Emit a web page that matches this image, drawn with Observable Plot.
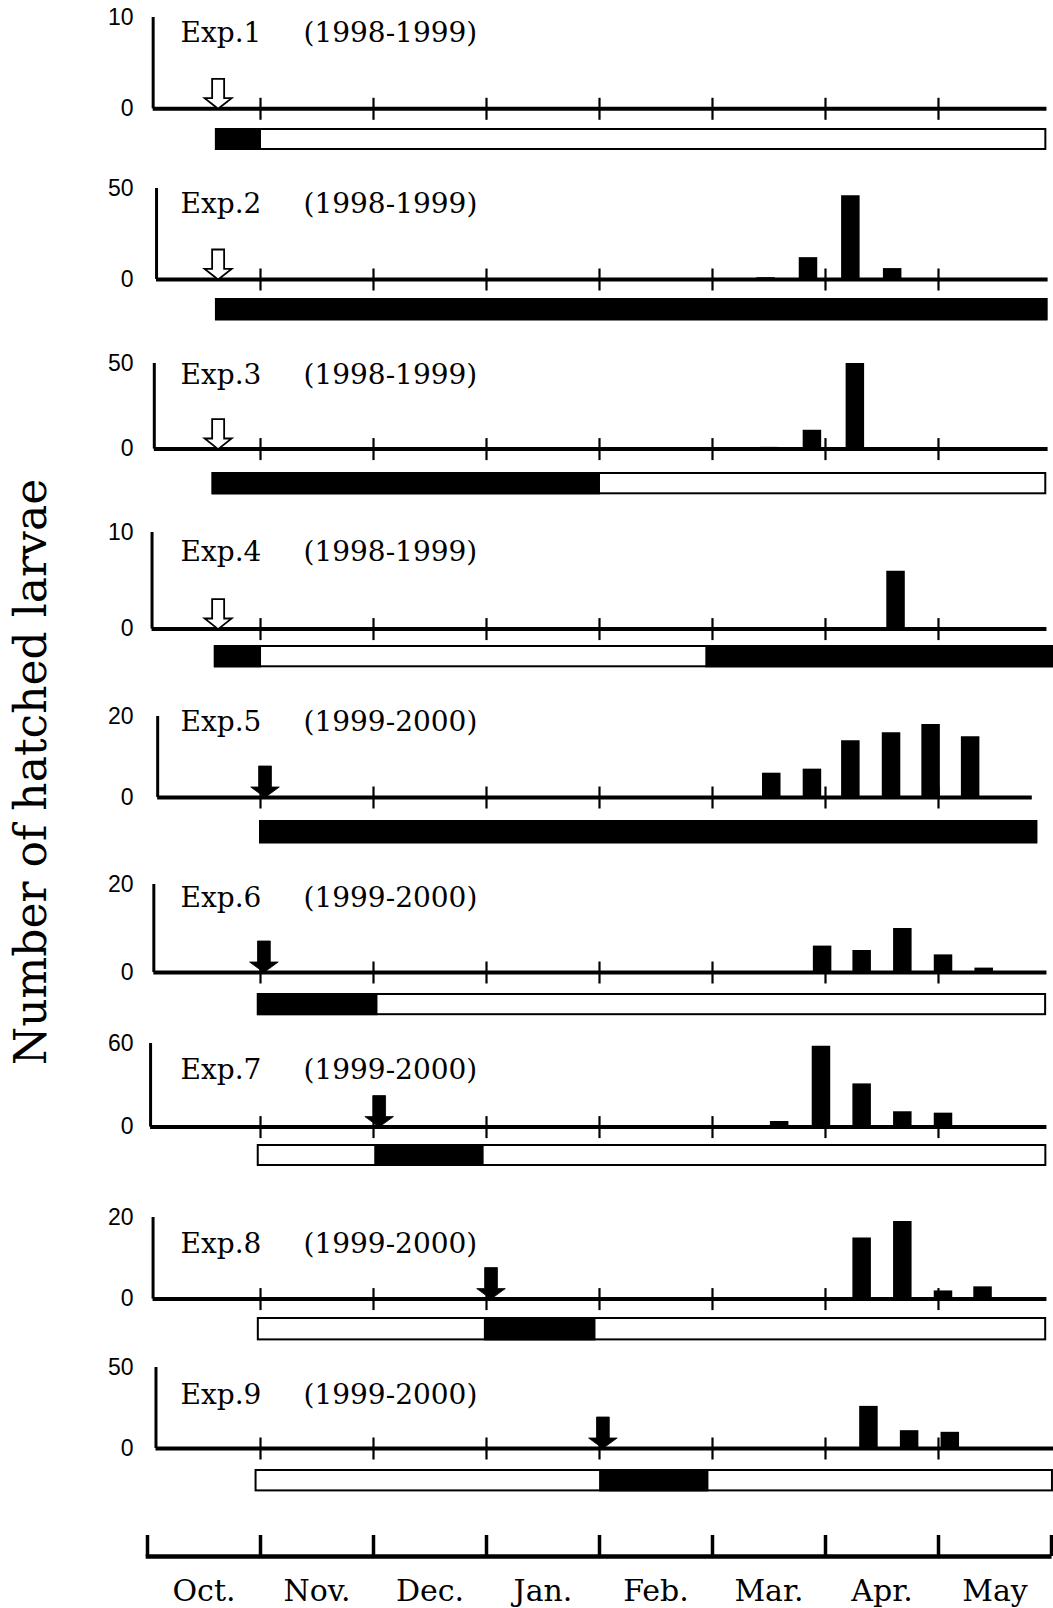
<!DOCTYPE html>
<html>
<head>
<meta charset="utf-8">
<script src="https://cdn.jsdelivr.net/npm/d3@7"></script>
<script src="https://cdn.jsdelivr.net/npm/@observablehq/plot@0.6"></script>
<style>
  body { margin: 0; background: white; }
  #root { position: relative; width: 1053px; height: 1608px; background: white; overflow: hidden; }
  #root > .piece { position: absolute; left: 0; }
  #ytitle { position: absolute; left: 31px; top: 772px; transform: translate(-50%, -50%) rotate(-90deg);
            white-space: nowrap; font-family: "DejaVu Serif"; font-size: 44px; line-height: 1; color: black; }
</style>
</head>
<body>
<div id="root"><div id="ytitle">Number of hatched larvae</div></div>
<script>
// ---------------- data ----------------
const months = ["Oct.", "Nov.", "Dec.", "Jan.", "Feb.", "Mar.", "Apr.", "May"];
const monthTicks = [0, 1, 2, 3, 4, 5, 6, 7, 8];
const innerTicks = [1, 2, 3, 4, 5, 6, 7];

const expLabels = ["Exp.1", "Exp.2", "Exp.3", "Exp.4", "Exp.5", "Exp.6", "Exp.7", "Exp.8", "Exp.9"];
const seasons = ["(1998-1999)", "(1998-1999)", "(1998-1999)", "(1998-1999)",
                 "(1999-2000)", "(1999-2000)", "(1999-2000)", "(1999-2000)", "(1999-2000)"];
const yMaxima = [10, 50, 50, 10, 20, 20, 60, 20, 50];

// release date (month units from Oct. 1) and kind of arrow
const releaseMonth = [0.625, 0.625, 0.625, 0.625, 1.04, 1.03, 2.05, 3.04, 4.03];
const releaseKind = ["open", "open", "open", "open", "filled", "filled", "filled", "filled", "filled"];

// hatched larvae: [month position, count]
const exp1Hatch = [];
const exp2Hatch = [[5.47, 1], [5.845, 12], [6.22, 46], [6.59, 6]];
const exp3Hatch = [[5.50, 1], [5.88, 11], [6.26, 50]];
const exp4Hatch = [[6.62, 6]];
const exp5Hatch = [[5.52, 6], [5.88, 7], [6.22, 14], [6.58, 16], [6.93, 18], [7.28, 15]];
const exp6Hatch = [[5.97, 6], [6.32, 5], [6.68, 10], [7.04, 4], [7.40, 1]];
const exp7Hatch = [[5.59, 4], [5.96, 58], [6.32, 31], [6.68, 11], [7.04, 10]];
const exp8Hatch = [[6.32, 15], [6.68, 19], [7.04, 2], [7.39, 3]];
const exp9Hatch = [[6.38, 26], [6.74, 11], [7.10, 10]];
const hatch = [exp1Hatch, exp2Hatch, exp3Hatch, exp4Hatch, exp5Hatch, exp6Hatch, exp7Hatch, exp8Hatch, exp9Hatch];

// treatment strip: whole span and dark periods
const stripSpan = [[0.61, 7.95], [0.61, 7.96], [0.58, 7.95], [0.60, 8.02], [1.0, 7.87],
                   [0.98, 7.95], [0.98, 7.95], [0.98, 7.95], [0.96, 8.01]];
const darkPeriods = [
  [[0.61, 1.0]],
  [[0.61, 7.96]],
  [[0.58, 4.0]],
  [[0.60, 1.0], [4.95, 8.02]],
  [[1.0, 7.87]],
  [[0.98, 2.03]],
  [[2.02, 2.97]],
  [[2.99, 3.96]],
  [[4.01, 4.96]]
];

// ---------------- layout (pixels / styles) ----------------
const W = 1053, ML = 147, MR = 2;
const axisTopPx = [17, 188.3, 362.7, 531.7, 716, 884, 1042.7, 1216.7, 1367.3];
const baselinePx = [108.3, 279.3, 448.3, 628.3, 797, 972, 1126.3, 1298.3, 1448.3];
const stripTopPx = [128, 297.7, 471.7, 645, 820, 993.3, 1144, 1317.3, 1469.3];
const stripBottomPx = [150, 320, 494, 667.3, 843.3, 1015.5, 1166, 1340.7, 1491.7];
const titleDy = [24.7, 24.4, 20.6, 28.3, 14, 22.7, 35.6, 36, 36];
const yAxisAt = [0.05, 0.08, 0.06, 0.04, 0.09, 0.056, 0.027, 0.049, 0.075];
const baselineEnd = [7.96, 7.97, 7.97, 7.96, 7.83, 7.96, 7.96, 7.96, 8.02];

const tickSymbol = { draw(ctx) { ctx.moveTo(0, -11); ctx.lineTo(0, 11); } };
const openArrow = { draw(ctx) {
  ctx.moveTo(0, 0); ctx.lineTo(13.5, -10.6); ctx.lineTo(6, -10.6); ctx.lineTo(6, -30);
  ctx.lineTo(-6, -30); ctx.lineTo(-6, -10.6); ctx.lineTo(-13.5, -10.6); ctx.closePath();
} };
const filledArrow = { draw(ctx) {
  ctx.moveTo(0, 0); ctx.lineTo(14.3, -10.5); ctx.lineTo(6.4, -10.5); ctx.lineTo(6.4, -31.5);
  ctx.lineTo(-6.4, -31.5); ctx.lineTo(-6.4, -10.5); ctx.lineTo(-14.3, -10.5); ctx.closePath();
} };

const root = document.getElementById("root");
function place(svg, top) {
  svg.classList.add("piece");
  svg.style.top = top + "px";
  root.appendChild(svg);
}
const baseStyle = "background: transparent; overflow: visible; font-family: 'Liberation Sans'; font-size: 21px; color: black;";

for (let i = 0; i < 9; ++i) {
  const h = baselinePx[i] - axisTopPx[i] + 34;
  const open = releaseKind[i] === "open";
  const chart = Plot.plot({
    width: W, height: h, marginTop: 20, marginBottom: 14, marginLeft: ML, marginRight: MR,
    x: { domain: [0, 8], axis: null },
    y: { domain: [0, yMaxima[i]], axis: null },
    style: baseStyle,
    marks: [
      Plot.ruleX(hatch[i], { x: d => d[0], y1: 0, y2: d => d[1], stroke: "black", strokeWidth: 18.5 }),
      Plot.ruleY([0], { x1: yAxisAt[i], x2: baselineEnd[i], stroke: "black", strokeWidth: 4 }),
      Plot.ruleX([yAxisAt[i]], { y1: 0, y2: yMaxima[i], stroke: "black", strokeWidth: 3 }),
      Plot.dot(innerTicks, { x: d => d, y: 0, symbol: tickSymbol, r: 4, stroke: "black", strokeWidth: 2.2, fill: "none" }),
      // y tick labels (0 and max) placed with the y scale
      Plot.text([0, yMaxima[i]], { x: 0, y: d => d, text: d => String(d), dx: -14, textAnchor: "end",
                   lineAnchor: "middle", fontSize: 23, fontFamily: "Liberation Sans", fill: "black" }),
      Plot.dot([releaseMonth[i]], { x: d => d, y: 0, symbol: open ? openArrow : filledArrow, r: 4,
                   fill: open ? "white" : "black", stroke: "black", strokeWidth: open ? 1.8 : 0.8 }),
      Plot.text([expLabels[i]], { text: d => d, frameAnchor: "top-left", dx: 33, dy: titleDy[i], lineAnchor: "bottom",
                   textAnchor: "start", fontFamily: "DejaVu Serif", fontSize: 28, fill: "black" }),
      Plot.text([seasons[i]], { text: d => d, frameAnchor: "top-left", dx: 156, dy: titleDy[i], lineAnchor: "bottom",
                   textAnchor: "start", fontFamily: "DejaVu Serif", fontSize: 28, fill: "black" })
    ]
  });
  place(chart, axisTopPx[i] - 20);

  const sh = stripBottomPx[i] - stripTopPx[i] + 6;
  const strip = Plot.plot({
    width: W, height: sh, marginTop: 4, marginBottom: 4, marginLeft: ML, marginRight: MR,
    x: { domain: [0, 8], axis: null },
    style: baseStyle,
    marks: [
      Plot.rect([stripSpan[i]], { x1: d => d[0], x2: d => d[1], fill: "white", stroke: "black", strokeWidth: 2 }),
      Plot.rect(darkPeriods[i], { x1: d => d[0], x2: d => d[1], fill: "black", stroke: "black", strokeWidth: 2 })
    ]
  });
  place(strip, stripTopPx[i] - 3);
}

// bottom month axis
const bottom = Plot.plot({
  width: W, height: 88, marginTop: 15, marginBottom: 52, marginLeft: ML, marginRight: MR,
  x: { domain: [0, 8], axis: null },
  y: { domain: [0, 1], axis: null },
  style: baseStyle,
  marks: [
    Plot.ruleY([0], { x1: -0.012, x2: 8.005, stroke: "black", strokeWidth: 4.5 }),
    Plot.ruleX(monthTicks, { x: d => d, y1: 0, y2: 1, stroke: "black", strokeWidth: 3.5 }),
    Plot.text(months, { x: (d, i) => i + 0.5, y: 0, dy: 44, text: d => d, lineAnchor: "bottom",
                        fontFamily: "DejaVu Serif", fontSize: 30, fill: "black" })
  ]
});
place(bottom, 1520);
</script>
</body>
</html>
